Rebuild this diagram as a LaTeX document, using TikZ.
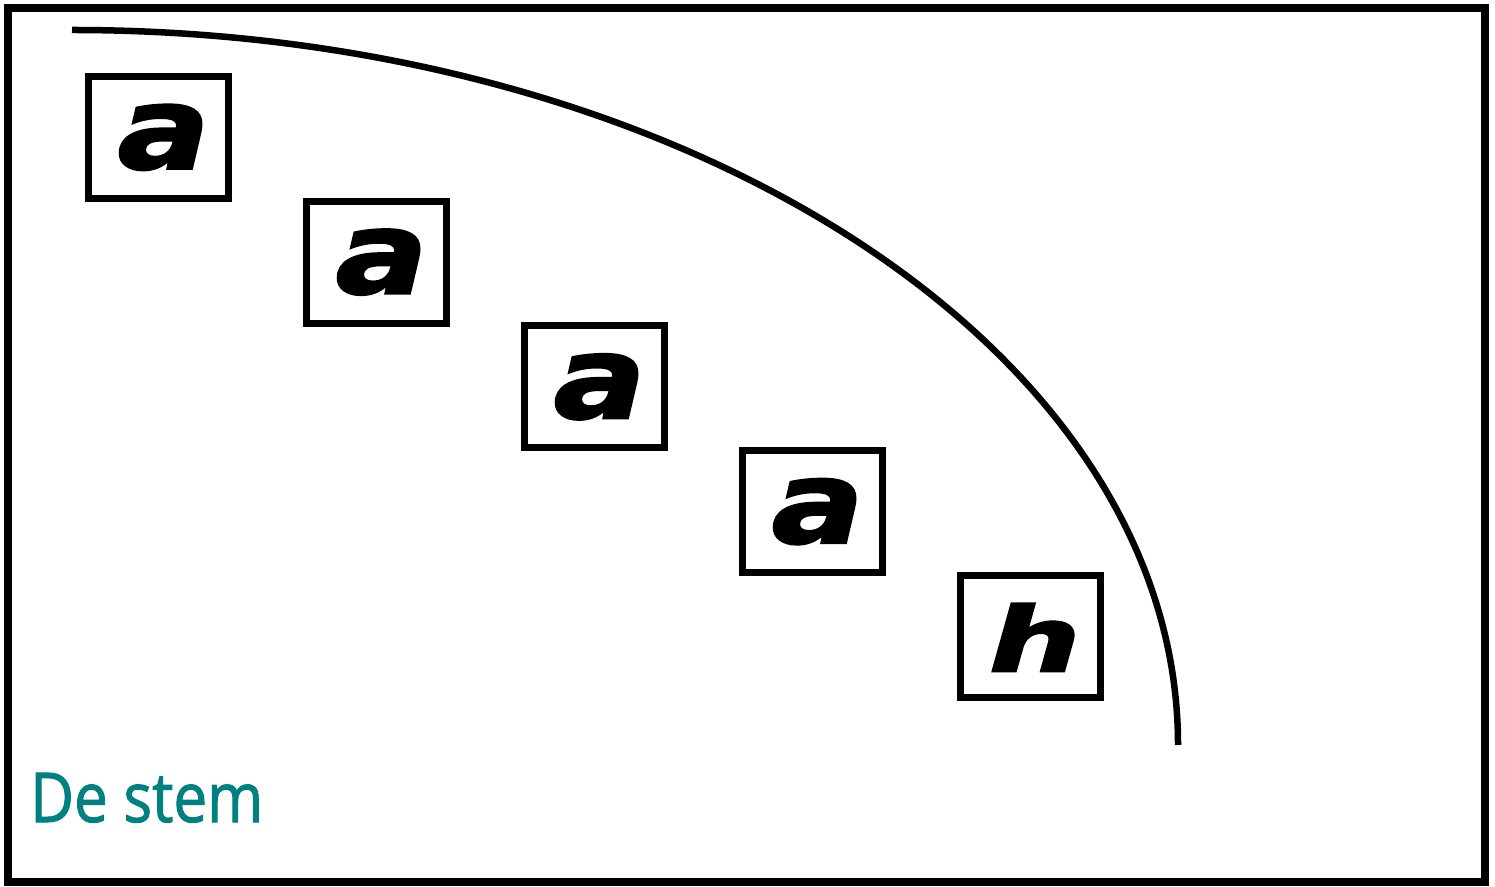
\documentclass[tikz,border=0pt]{standalone}
\usepackage{fontspec}
\usepackage{graphicx}
\newfontfamily\heavyfont{DejaVu Sans}[FakeBold=2]
\newfontfamily\labelfont{Open Sans}[FakeBold=1.5]
\definecolor{labelteal}{RGB}{0,128,128}
\begin{document}
\begin{tikzpicture}[x=1pt,y=1pt,
  letterbox/.style={draw, line width=7pt, minimum width=140pt, minimum height=122pt, inner sep=0pt},
  glyph/.style={inner sep=0pt, xshift=5pt}
]
\useasboundingbox (0,0) rectangle (1495,886);
\draw[line width=8.5pt] (8,4) rectangle (1485,878);
\coordinate (cstart) at (72,856);
\draw[line width=6.5pt] (cstart) arc[start angle=90, end angle=0, x radius=1106, y radius=715] coordinate (cend);
\node[letterbox] (b1) at (158.8,748.6) {};
\node[letterbox] (b2) at (376.8,623.85) {};
\node[letterbox] (b3) at (594.8,499.1) {};
\node[letterbox] (b4) at (812.8,374.35) {};
\node[letterbox] (b5) at (1030.8,249.6) {};
\node[glyph] (g1) at (b1.center) {\resizebox{92pt}{64pt}{\heavyfont\bfseries\itshape a}};
\node[glyph] (g2) at (b2.center) {\resizebox{92pt}{64pt}{\heavyfont\bfseries\itshape a}};
\node[glyph] (g3) at (b3.center) {\resizebox{92pt}{64pt}{\heavyfont\bfseries\itshape a}};
\node[glyph] (g4) at (b4.center) {\resizebox{92pt}{64pt}{\heavyfont\bfseries\itshape a}};
\node[glyph, xshift=-1pt, yshift=-1pt] (g5) at (b5.center) {\resizebox{92pt}{68pt}{\heavyfont\bfseries\itshape h}};
\node[anchor=base west, inner sep=0pt, text=labelteal] (lbl) at (30,64) {\resizebox{233pt}{49pt}{\labelfont De stem}};
\end{tikzpicture}
\end{document}
